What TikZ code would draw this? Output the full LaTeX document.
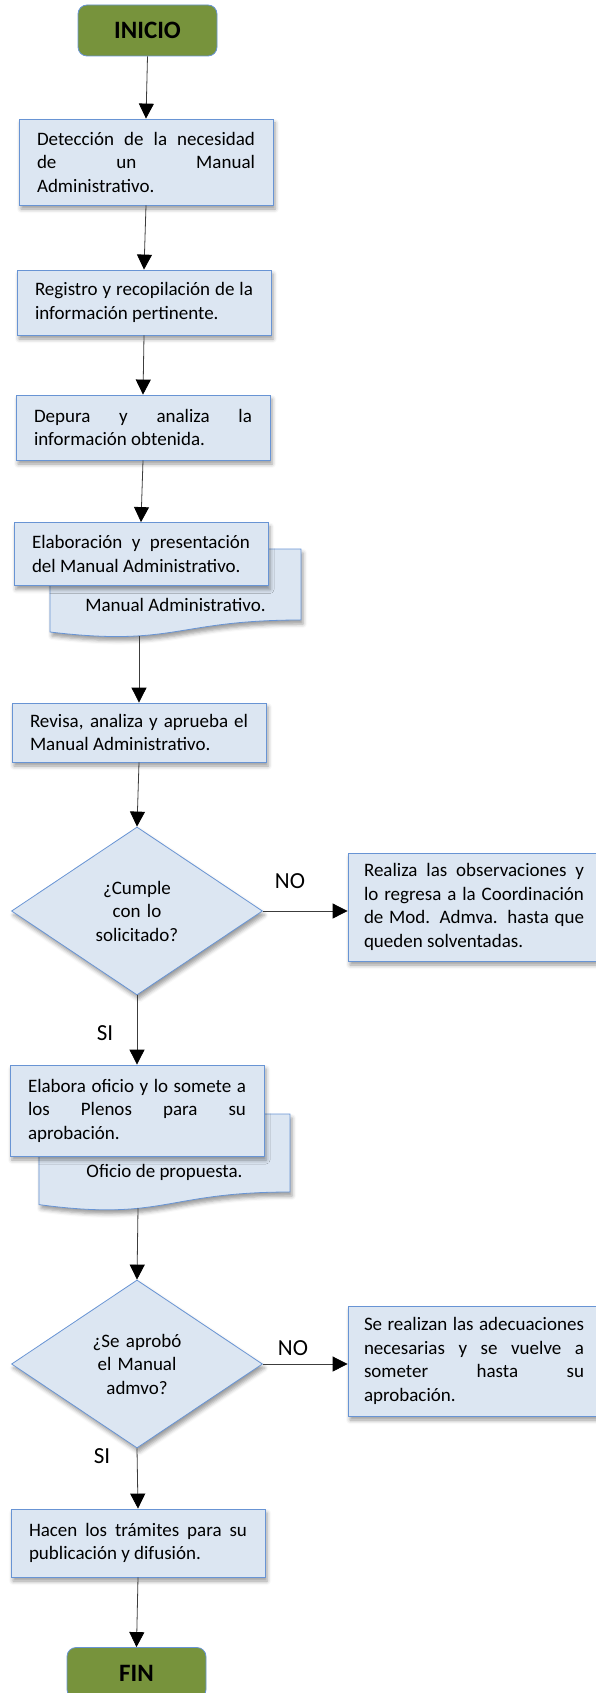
\documentclass[tikz,border=0pt]{standalone}
\usepackage{fontspec}
\setmainfont{Carlito}
\usetikzlibrary{arrows.meta,shapes.geometric,shadows.blur}
\definecolor{boxfill}{RGB}{220,230,242}
\definecolor{boxline}{RGB}{104,148,212}
\definecolor{termfill}{RGB}{119,147,60}
\definecolor{flowline}{RGB}{60,60,60}
\tolerance=10000 \hbadness=10000 \hyphenpenalty=10000
\tikzset{
  boxshadow/.style={blur shadow={shadow xshift=2pt,shadow yshift=-4pt,shadow blur radius=4pt,shadow opacity=40}},
  procbox/.style={rectangle,draw=boxline,fill=boxfill,line width=.8pt,text width=218pt,inner xsep=18pt,
    align=justify,font=\fontsize{19}{23.5}\selectfont,boxshadow},
  docbox/.style={draw=boxline,fill=boxfill,line width=.8pt,boxshadow},
  doctext/.style={font=\fontsize{19}{23.5}\selectfont},
  decision/.style={diamond,draw=boxline,fill=boxfill,line width=.8pt,minimum width=251pt,minimum height=168pt,
    inner sep=0pt,text width=100pt,align=center,font=\fontsize{19}{23.5}\selectfont,boxshadow},
  terminal/.style={rectangle,rounded corners=9pt,draw=boxline,fill=termfill,line width=.8pt,
    minimum width=139pt,minimum height=51pt,font=\fontsize{25}{30}\selectfont\bfseries},
  lbl/.style={font=\fontsize{23}{27}\selectfont},
  flow/.style={draw=flowline,line width=.8pt,-{Triangle[width=15pt,length=15pt,color=black]}}
}
\begin{document}
\begin{tikzpicture}[x=1pt,y=-1pt]
\useasboundingbox (0,0) rectangle (595,1693);
% main column
\node[terminal] (inicio) at (147.5,30.5) {INICIO};
\node[procbox,minimum height=86pt] (detecta) at (146,162)
  {Detección de la necesidad\linebreak de un Manual\linebreak Administrativo.};
\node[procbox,minimum height=65pt] (registro) at (144,302.5)
  {Registro y recopilación de la\linebreak información pertinente.};
\node[procbox,minimum height=65pt] (depura) at (143,427.5)
  {Depura y analiza la\linebreak información obtenida.};
% document behind the box
\path[docbox] (50,549) -- (301,549) -- (301,620) .. controls (175.5,620) and (175.5,647) .. (50,632) -- cycle;
\coordinate (doc4b) at (139,636);
\node[doctext] (doc4) at (175.5,605) {Manual Administrativo.};
\node[procbox,minimum height=63pt] (elabora) at (141,554)
  {Elaboración y presentación\linebreak del Manual Administrativo.};
\node[procbox,minimum height=59pt] (revisa) at (139,732.5)
  {Revisa, analiza y aprueba el\linebreak Manual Administrativo.};
\node[decision] (cumple) at (137,911) {¿Cumple\\con lo\\solicitado?};
\node[procbox,text width=220pt,inner xsep=16pt,minimum height=108pt] (observa) at (474,907)
  {Realiza las observaciones y\linebreak lo regresa a la Coordinación\linebreak de Mod. Admva. hasta que\linebreak queden solventadas.};
\path[docbox] (39,1114) -- (290,1114) -- (290,1192) .. controls (164.5,1192) and (164.5,1221.5) .. (39,1204.6) -- cycle;
\coordinate (doc7b) at (138,1208);
\node[doctext] (doc7) at (164.5,1172) {Oficio de propuesta.};
\node[procbox,minimum height=91pt] (oficio) at (137,1110.5)
  {Elabora oficio y lo somete a\linebreak los Plenos para su\linebreak aprobación.};
\node[decision] (aprobo) at (137,1364) {¿Se aprobó\\el Manual\\admvo?};
\node[procbox,text width=220pt,inner xsep=16pt,minimum height=110pt] (adecua) at (474,1361)
  {Se realizan las adecuaciones\linebreak necesarias y se vuelve a\linebreak someter hasta su\linebreak aprobación.};
\node[procbox,minimum height=68pt] (tramites) at (138,1543)
  {Hacen los trámites para su\linebreak publicación y difusión.};
\node[terminal] (fin) at (136.5,1673) {FIN};
% labels
\node[lbl] (no1) at (290,881) {NO};
\node[lbl] (si1) at (105,1033) {SI};
\node[lbl] (no2) at (293,1348) {NO};
\node[lbl] (si2) at (102,1456) {SI};
% connectors
\foreach \a/\b in {inicio/detecta,detecta/registro,registro/depura,depura/elabora,
  revisa/cumple,cumple/oficio,aprobo/tramites,tramites/fin}
  \draw[flow] (\a.south) -- (\b.north);
\draw[flow] (doc4b) -- (revisa.north);
\draw[flow] (doc7b) -- (aprobo.north);
\draw[flow] (cumple.east) -- (cumple.east -| observa.west);
\draw[flow] (aprobo.east) -- (aprobo.east -| adecua.west);
\end{tikzpicture}
\end{document}
